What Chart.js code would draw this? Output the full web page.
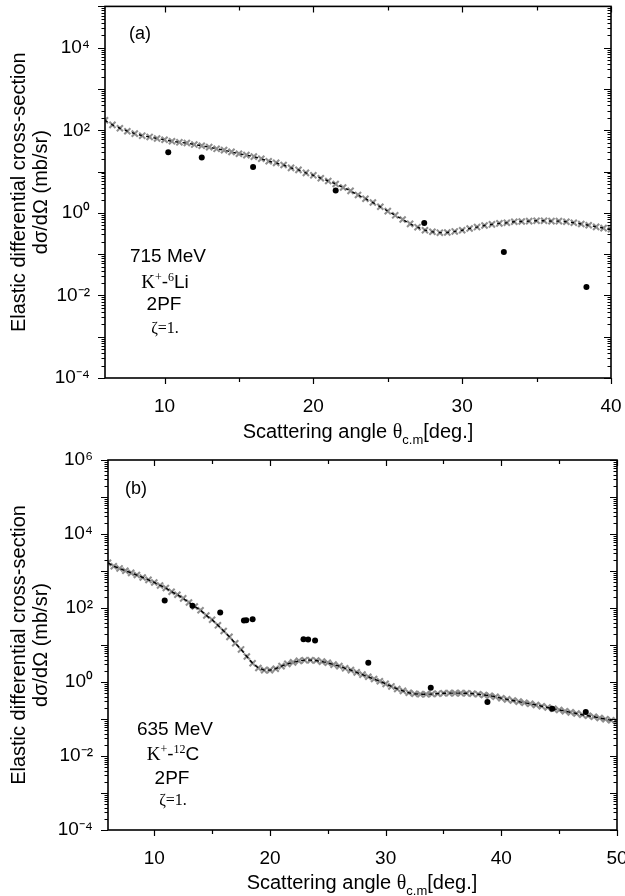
<!DOCTYPE html>
<html>
<head>
<meta charset="utf-8">
<script src="https://cdn.jsdelivr.net/npm/chart.js@4.4.0/dist/chart.umd.min.js"></script>
<style>
    html, body { margin: 0; padding: 0; background: #fff; }
    #page { position: relative; width: 625px; height: 896px; overflow: hidden;
            font-family: 'Liberation Sans', Arial, sans-serif; color: #000; }
    .panel { position: absolute; left: 0; width: 625px; height: 448px; }
    .lbl { position: absolute; transform: translate(-50%, -50%); white-space: nowrap;
           font-size: 19px; line-height: 1; }
    .serif { font-family: 'Liberation Serif', 'Times New Roman', serif; }
    .sup { position: relative; top: -0.55em; font-size: 12px; }
    .sub { position: relative; top: 0.45em; font-size: 13px; }
</style>
</head>
<body>
<div id="page">
    <div class="panel" style="top:0"><canvas id="chartA" width="625" height="448"></canvas></div>
    <div class="panel" style="top:448px"><canvas id="chartB" width="625" height="448"></canvas></div>

    <!-- painel (a) -->
    <div class="lbl" style="left:140px;top:33px;font-size:18px">(a)</div>
    <div class="lbl" style="left:168px;top:255px">715 MeV</div>
    <div class="lbl" style="left:165px;top:281px"><span class="serif">K</span><span class="sup serif">+</span>-<span class="sup serif">6</span>Li</div>
    <div class="lbl" style="left:164px;top:303px">2PF</div>
    <div class="lbl serif" style="left:165px;top:328px;font-size:16px">&zeta;=1.</div>
    <div class="lbl" style="left:358px;top:431px;font-size:20px">Scattering angle <span class="serif">&theta;</span><span class="sub">c.m</span>[deg.]</div>

    <!-- painel (b) -->
    <div class="lbl" style="left:136px;top:488px;font-size:18px">(b)</div>
    <div class="lbl" style="left:175px;top:728px">635 MeV</div>
    <div class="lbl" style="left:173px;top:753px"><span class="serif">K</span><span class="sup serif">+</span>-<span class="sup serif">12</span>C</div>
    <div class="lbl" style="left:172px;top:777px">2PF</div>
    <div class="lbl serif" style="left:173px;top:800px;font-size:16px">&zeta;=1.</div>
    <div class="lbl" style="left:362px;top:882px;font-size:20px">Scattering angle <span class="serif">&theta;</span><span class="sub">c.m</span>[deg.]</div>
</div>

<script>
// Painel (a): K+ - 6Li, 715 MeV
const thetaA = [6, 6.5, 7, 7.5, 8, 8.5, 9, 9.5, 10, 10.5, 11, 11.5, 12, 12.5, 13, 13.5, 14, 14.5,
    15, 15.5, 16, 16.5, 17, 17.5, 18, 18.5, 19, 19.5, 20, 20.5, 21, 21.5, 22, 22.5, 23, 23.5,
    24, 24.5, 25, 25.5, 26, 26.5, 27, 27.5, 28, 28.5, 29, 29.5, 30, 30.5, 31, 31.5, 32, 32.5,
    33, 33.5, 34, 34.5, 35, 35.5, 36, 36.5, 37, 37.5, 38, 38.5, 39, 39.5, 40];
const theoryA = [174, 135, 112, 95, 83, 74, 69, 63, 59, 54, 51, 49, 45, 42, 39, 35.5, 33, 30,
    27, 25, 23, 20.4, 17.8, 16.2, 14.4, 12.3, 11.0, 9.3, 8.1, 6.9, 5.9, 5.0, 4.1, 3.4, 2.7, 2.2,
    1.78, 1.40, 1.10, 0.87, 0.69, 0.54, 0.45, 0.38, 0.347, 0.331, 0.335, 0.355, 0.38, 0.417, 0.452, 0.495, 0.525, 0.556,
    0.575, 0.61, 0.617, 0.63, 0.646, 0.646, 0.63, 0.63, 0.61, 0.575, 0.537, 0.50, 0.457, 0.427, 0.40];
const expThetaA = [10.25, 12.5, 15.95, 21.5, 27.45, 32.8, 38.35];
const expSigmaA = [29.5, 22, 12.9, 3.5, 0.57, 0.112, 0.0159];

// Painel (b): K+ - 12C, 635 MeV
const thetaB = [6, 6.5, 7, 7.5, 8, 8.5, 9, 9.5, 10, 10.5, 11, 11.5, 12, 12.5, 13, 13.5, 14, 14.5,
    15, 15.5, 16, 16.5, 17, 17.5, 18, 18.5, 19, 19.5, 20, 20.5, 21, 21.5, 22, 22.5, 23, 23.5,
    24, 24.5, 25, 25.5, 26, 26.5, 27, 27.5, 28, 28.5, 29, 29.5, 30, 30.5, 31, 31.5, 32, 32.5,
    33, 33.5, 34, 34.5, 35, 35.5, 36, 36.5, 37, 37.5, 38, 38.5, 39, 39.5, 40, 40.5, 41, 41.5,
    42, 42.5, 43, 43.5, 44, 44.5, 45, 45.5, 46, 46.5, 47, 47.5, 48, 48.5, 49, 49.5, 50];
const theoryB = [1660, 1350, 1175, 1020, 890, 776, 668, 575, 490, 407, 347, 275, 229, 182, 141, 110, 87, 63,
    48, 34, 24, 16.6, 11.2, 7.6, 4.9, 3.2, 2.4, 2.09, 2.09, 2.29, 2.69, 3.09, 3.39, 3.72, 3.89, 3.89,
    3.80, 3.55, 3.31, 2.95, 2.69, 2.34, 2.09, 1.82, 1.58, 1.38, 1.20, 1.05, 0.89, 0.76, 0.65, 0.575, 0.513, 0.479,
    0.468, 0.468, 0.473, 0.484, 0.495, 0.50, 0.50, 0.50, 0.495, 0.484, 0.468, 0.447, 0.427, 0.398, 0.363, 0.339, 0.316, 0.295,
    0.275, 0.257, 0.240, 0.221, 0.204, 0.19, 0.176, 0.162, 0.151, 0.141, 0.130, 0.122, 0.115, 0.106, 0.099, 0.092, 0.086];
const expThetaB = [10.9, 13.3, 15.7, 17.75, 17.95, 18.5, 22.9, 23.3, 23.9, 28.5, 33.9, 38.8, 44.4, 47.3];
const expSigmaB = [160, 115, 76, 46, 47, 50, 14.2, 14, 13.2, 3.3, 0.70, 0.29, 0.19, 0.155];

// Marcas dos eixos
const xMajor = [10, 20, 30, 40, 50];
const yTitle = ['Elastic differential cross-section', 'd\u03C3/d\u03A9 (mb/sr)'];

const FONT = "'Liberation Sans', Arial, sans-serif";
const SUP = { '-': '\u207B', '0': '\u2070', '1': '\u00B9', '2': '\u00B2', '4': '\u2074', '6': '\u2076' };

function decadeExp(v) {
    const e = Math.log10(v);
    return Math.abs(e - Math.round(e)) < 1e-9 ? Math.round(e) : null;
}

// Desenha moldura e marcas (para dentro no topo/direita, para fora embaixo/esquerda)
const frameTicks = {
    id: 'frameTicks',
    afterDraw(chart) {
        const { ctx, chartArea: a, scales: { x, y } } = chart;
        ctx.save();
        ctx.strokeStyle = '#000';
        ctx.lineWidth = 1.6;
        ctx.strokeRect(a.left, a.top, a.right - a.left, a.bottom - a.top);
        ctx.lineWidth = 1.2;
        ctx.beginPath();
        x.ticks.forEach(t => {
            const px = Math.round(x.getPixelForValue(t.value)) + 0.5;
            const len = xMajor.includes(t.value) ? 6 : 4;
            ctx.moveTo(px, a.bottom); ctx.lineTo(px, a.bottom + len);
            ctx.moveTo(px, a.top); ctx.lineTo(px, a.top + len);
        });
        y.ticks.forEach(t => {
            const py = Math.round(y.getPixelForValue(t.value)) + 0.5;
            const len = decadeExp(t.value) !== null ? 7 : 3.5;
            ctx.moveTo(a.left - len, py); ctx.lineTo(a.left, py);
            ctx.moveTo(a.right - len, py); ctx.lineTo(a.right, py);
        });
        ctx.stroke();
        ctx.restore();
    }
};

function makePanel(id, cfg) {
    const ctx = document.getElementById(id).getContext('2d');
    return new Chart(ctx, {
        type: 'scatter',
        data: {
            datasets: [
                {
                    label: 'exp',
                    data: cfg.expX.map((v, i) => ({ x: v, y: cfg.expY[i] })),
                    pointStyle: 'circle',
                    pointRadius: 3,
                    backgroundColor: '#000',
                    borderColor: '#000',
                    borderWidth: 0,
                    showLine: false
                },
                {
                    label: 'line',
                    data: cfg.thX.map((v, i) => ({ x: v, y: cfg.thY[i] })),
                    showLine: true,
                    pointRadius: 0,
                    borderColor: '#000',
                    borderWidth: 1.4,
                    borderDash: cfg.dash
                },
                {
                    label: 'theory',
                    data: cfg.thX.map((v, i) => ({ x: v, y: cfg.thY[i] })),
                    showLine: false,
                    pointStyle: 'crossRot',
                    pointRadius: 4.3,
                    borderColor: '#8f8f8f',
                    pointBorderWidth: 2.1
                }
            ]
        },
        options: {
            responsive: false,
            animation: false,
            devicePixelRatio: 1,
            layout: { padding: { top: cfg.padTop, right: cfg.padRight, left: 0, bottom: 0 } },
            plugins: { legend: { display: false }, tooltip: { enabled: false } },
            scales: {
                x: {
                    type: 'linear',
                    min: cfg.xMin,
                    max: cfg.xMax,
                    grid: { display: false },
                    border: { display: false },
                    afterBuildTicks: s => {
                        const t = [];
                        for (let v = 10; v <= cfg.xMax; v += 5) t.push({ value: v });
                        s.ticks = t;
                    },
                    afterFit: s => {
                        s.height = cfg.xHeight;
                        s.paddingLeft = 0;
                        s.paddingRight = 0;
                    },
                    ticks: {
                        autoSkip: false,
                        maxRotation: 0,
                        padding: 9,
                        color: '#000',
                        font: { family: FONT, size: 19 },
                        callback: v => (xMajor.includes(v) ? String(v) : '')
                    }
                },
                y: {
                    type: 'logarithmic',
                    min: cfg.yMin,
                    max: cfg.yMax,
                    grid: { display: false },
                    border: { display: false },
                    afterBuildTicks: s => {
                        const lo = Math.round(Math.log10(cfg.yMin));
                        const hi = Math.round(Math.log10(cfg.yMax));
                        const t = [];
                        for (let e = lo; e < hi; e++) {
                            for (let k = 1; k <= 9; k++) t.push({ value: k * Math.pow(10, e) });
                        }
                        t.push({ value: Math.pow(10, hi) });
                        s.ticks = t;
                    },
                    afterFit: s => {
                        s.width = cfg.yWidth;
                        s.paddingTop = 0;
                        s.paddingBottom = 0;
                    },
                    ticks: {
                        autoSkip: false,
                        padding: 7,
                        color: '#000',
                        font: { family: FONT, size: 19 },
                        callback: v => {
                            const e = decadeExp(v);
                            if (e === null || e % 2 !== 0) return '';
                            return '10' + String(e).split('').map(c => SUP[c]).join('');
                        }
                    },
                    title: {
                        display: true,
                        text: yTitle,
                        color: '#000',
                        font: { family: FONT, size: 20, lineHeight: 1.1 },
                        padding: { top: 8, bottom: 0 }
                    }
                }
            }
        },
        plugins: [frameTicks]
    });
}

makePanel('chartA', {
    thX: thetaA, thY: theoryA, expX: expThetaA, expY: expSigmaA,
    xMin: 6, xMax: 40, yMin: 1e-4, yMax: 1e5,
    padTop: 6, padRight: 14, yWidth: 105, xHeight: 70, dash: [3, 4.4]
});

makePanel('chartB', {
    thX: thetaB, thY: theoryB, expX: expThetaB, expY: expSigmaB,
    xMin: 6, xMax: 50, yMin: 1e-4, yMax: 1e6,
    padTop: 12, padRight: 8, yWidth: 108, xHeight: 66, dash: [4, 3]
});
</script>
</body>
</html>
